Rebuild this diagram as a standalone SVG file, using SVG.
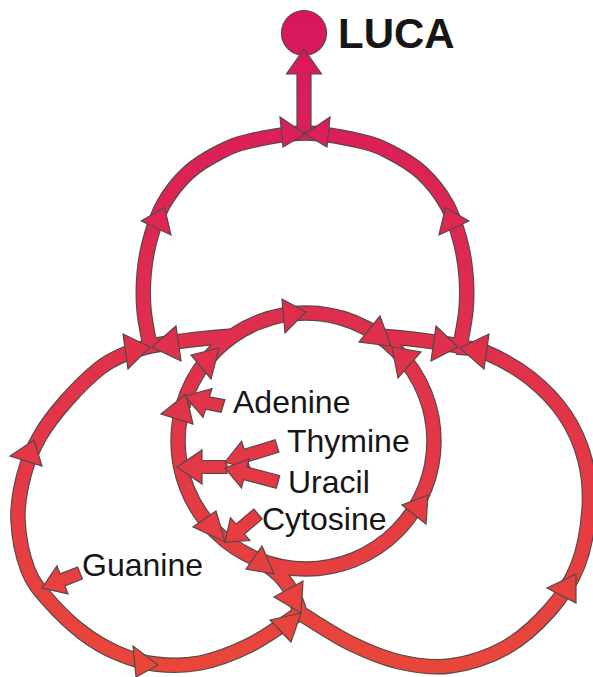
<svg xmlns="http://www.w3.org/2000/svg" width="593" height="677" viewBox="0 0 593 677">
<defs>
<linearGradient id="g" gradientUnits="userSpaceOnUse" x1="0" y1="0" x2="0" y2="677">
<stop offset="0" stop-color="#d8155f"/>
<stop offset="0.45" stop-color="#df2d4e"/>
<stop offset="1" stop-color="#e9473a"/>
</linearGradient>
<path id="top" d="M150,346 C149,340 145,321.8 144,310 C143,298.2 143,286.7 144,275 C145,263.3 146.8,251.7 150,240 C153.2,228.3 156.7,216.2 163,205 C169.3,193.8 178.5,181.8 188,173 C197.5,164.2 209.7,157.3 220,152 C230.3,146.7 235.8,144.2 250,141 C264.2,137.8 286.7,133 305,133 C323.3,133 345.8,137.8 360,141 C374.2,144.2 379.7,146.7 390,152 C400.3,157.3 412.5,164.2 422,173 C431.5,181.8 440.7,193.8 447,205 C453.3,216.2 456.8,228.3 460,240 C463.2,251.7 465,263.3 466,275 C467,286.7 467,298.2 466,310 C465,321.8 461,340 460,346"/>
<path id="left" d="M150,346 C145.8,347.3 133.3,350.3 125,354 C116.7,357.7 109.7,360.3 100,368 C90.3,375.7 77,388.7 67,400 C57,411.3 47.2,423.5 40,436 C32.8,448.5 27.7,461 24,475 C20.3,489 17.3,504.2 18,520 C18.7,535.8 22.7,556.3 28,570 C33.3,583.7 40.8,591.5 50,602 C59.2,612.5 71.8,624.5 83,633 C94.2,641.5 105,647.8 117,653 C129,658.2 141.2,662.3 155,664 C168.8,665.7 184.2,666.2 200,663 C215.8,659.8 233.3,653.3 250,645 C266.7,636.7 291.7,618.3 300,613"/>
<path id="right" d="M457,347 C461.7,347.8 472.8,346.8 485,352 C497.2,357.2 516.7,367.5 530,378 C543.3,388.5 555.8,401.3 565,415 C574.2,428.7 581,444.2 585,460 C589,475.8 590.2,492.5 589,510 C587.8,527.5 584.5,548.3 578,565 C571.5,581.7 562.2,596.2 550,610 C537.8,623.8 521.7,638.7 505,648 C488.3,657.3 467.5,663.7 450,666 C432.5,668.3 416.7,665.8 400,662 C383.3,658.2 366.7,651.2 350,643 C333.3,634.8 308.3,618 300,613"/>
<circle id="mid" cx="306" cy="441" r="128"/>
<path id="b1" d="M150,346 Q190,339 232,336"/>
<path id="b2" d="M460,346 Q420,339 380,336"/>
<path id="b3" d="M268,566 Q292,582 300,613"/>
</defs>
<style>
.o{fill:none;stroke:#554848;stroke-width:15.5}
.b{fill:none;stroke:url(#g);stroke-width:13.2}
.h{fill:url(#g);stroke:#554848;stroke-width:1.2;stroke-linejoin:miter}
text{font-family:"Liberation Sans",Arial,Helvetica,sans-serif;fill:#161616;font-size:32px}
</style>
<rect width="593" height="677" fill="#ffffff"/>

<g id="luca">
<circle cx="304" cy="33" r="22.5" class="h"/>
<text x="338" y="48" style="font-size:42px;font-weight:bold">LUCA</text>
</g>

<g id="connectors">
<use href="#top" class="o"/>
<use href="#left" class="o"/>
<use href="#right" class="o"/>
<use href="#mid" class="o"/>
<use href="#b1" class="o"/>
<use href="#b2" class="o"/>
<use href="#b3" class="o"/>
<use href="#top" class="b"/>
<use href="#left" class="b"/>
<use href="#right" class="b"/>
<use href="#mid" class="b"/>
<use href="#b1" class="b"/>
<use href="#b2" class="b"/>
<use href="#b3" class="b"/>

<polygon class="h" points="304,49 321.5,74 311,74 311,132 297,132 297,74 286.5,74"/>
<polygon class="h" points="305,134 280,117 283,147"/>
<polygon class="h" points="305,134 330,117 327,147"/>
<polygon class="h" points="164.5,207.5 141.2,221 171,235"/>
<polygon class="h" points="445.5,207.5 468.8,221 439,235"/>
<polygon class="h" points="150,347 123,334 128,369"/>
<polygon class="h" points="152,347 176,326 181,361"/>
<polygon class="h" points="458,347 436,326 431,361"/>
<polygon class="h" points="460,348 489,334 484,369"/>
<polygon class="h" points="34,440 10,456 42,466"/>
<polygon class="h" points="158,665 133,646 136,677"/>
<polygon class="h" points="301,613 270,620 291,642"/>
<polygon class="h" points="301,613 274,597 303,581"/>
<polygon class="h" points="274,574 246,569 262,546"/>
<polygon class="h" points="225,542 193,527 216,511"/>
<polygon class="h" points="186,394 161,414 193,424"/>
<polygon class="h" points="219,348 191,355 211,379"/>
<polygon class="h" points="306,312 282,299 285,333"/>
<polygon class="h" points="391,346 380,316 359,342"/>
<polygon class="h" points="392,347 421,352 398,378"/>
<polygon class="h" points="428,495 402,505 426,524"/>
<polygon class="h" points="576,574 547,588 576,603"/>

<polygon class="h" points="185,396 212,388.7 209.4,396.8 224.9,399.8 221.1,412.2 205.6,409.2 203,417.3"/>
<polygon class="h" points="177,467 202,450 202,460.5 227,460.5 227,473.5 202,473.5 202,484"/>
<polygon class="h" points="225,462 241.6,441.2 244.1,449.3 275.1,439.8 278.9,452.2 247.9,461.7 250.4,469.8"/>
<polygon class="h" points="225,468 249.1,458.9 247,467.1 279.7,475.7 276.3,488.3 243.6,479.7 241.5,487.9"/>
<polygon class="h" points="225,542 230.5,517.7 236,524.1 253.8,509 262.2,519 244.4,534.1 249.9,540.5"/>
<polygon class="h" points="42,588 57,565.9 60.1,573.9 77.6,567 82.4,579 64.9,585.9 68,593.9"/>
</g>

<g id="adenine"><text x="233" y="413">Adenine</text></g>
<g id="thymine"><text x="287" y="452">Thymine</text></g>
<g id="uracil"><text x="288" y="493">Uracil</text></g>
<g id="cytosine"><text x="262" y="530">Cytosine</text></g>
<g id="guanine"><text x="82" y="576">Guanine</text></g>
</svg>
